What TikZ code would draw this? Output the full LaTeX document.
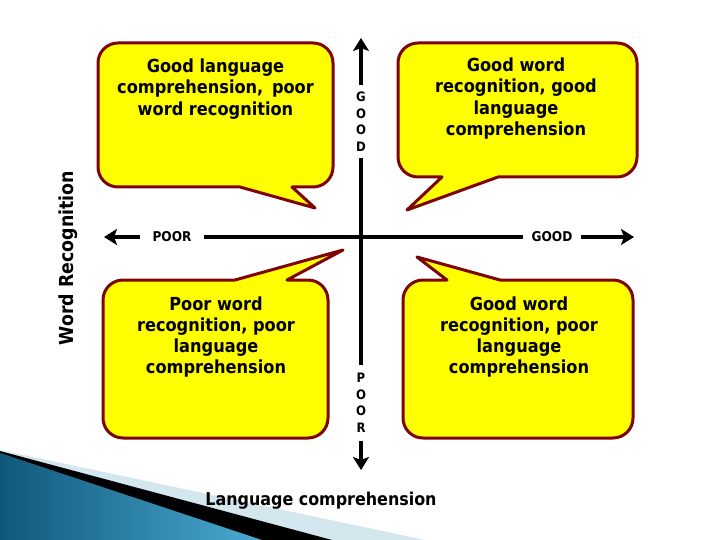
\documentclass[tikz,border=0pt]{standalone}
\usepackage{fontspec}
\newfontfamily\cf{DejaVu Sans Condensed Bold}
\usetikzlibrary{arrows.meta}
\definecolor{cfill}{RGB}{255,255,0}
\definecolor{cedge}{RGB}{125,5,5}
\definecolor{lightband}{RGB}{212,230,238}
\definecolor{bluedark}{RGB}{15,88,122}
\definecolor{bluelight}{RGB}{75,170,210}
\tikzset{
  callout/.style={fill=cfill,draw=cedge,line width=3pt,line join=round},
  ctext/.style={font=\cf\fontsize{18}{21.3}\selectfont,align=center,inner sep=0pt},
  axis/.style={line width=4pt},
  arr/.style={-{Stealth[length=13pt,width=16pt,inset=3pt]}},
  hlab/.style={font=\cf\fontsize{13.5}{16}\selectfont,inner ysep=0pt},
  vlab/.style={font=\cf\fontsize{13}{16.5}\selectfont,align=center,inner xsep=0pt},
}
\begin{document}
\begin{tikzpicture}[x=1pt,y=-1pt]
\useasboundingbox (0,0) rectangle (720,540);
% bottom-left decoration
\fill[lightband] (0,450) -- (425,540) -- (0,540) -- cycle;
\fill[black] (0,451) -- (332,540) -- (0,540) -- cycle;
\shade[left color=bluedark,right color=bluelight] (0,453) -- (262,540) -- (0,540) -- cycle;
% axes
\coordinate (tp) at (361,38);
\coordinate (bt) at (361,470);
\coordinate (lt) at (104,237);
\coordinate (rt) at (634,237);
\node[vlab,inner ysep=7pt] (vg) at (361,121.5) {G\\O\\O\\D};
\node[vlab,inner ysep=8pt] (vp) at (361,403) {P\\O\\O\\R};
\node[hlab,inner xsep=12pt] (hp) at (172,237) {POOR};
\node[hlab,inner xsep=8pt] (hg) at (552,237) {GOOD};
\draw[axis] (hp.east) -- (hg.west);
\draw[axis,arr] (hp.west) -- (lt);
\draw[axis,arr] (hg.east) -- (rt);
\draw[axis] (vg.south) -- (vp.north);
\draw[axis,arr] (vg.north) -- (tp);
\draw[axis,arr] (vp.south) -- (bt);
% callouts
\draw[callout] (215,43) [rounded corners=20pt] -- (333,43) -- (333,187) [sharp corners] -- (292,187) -- (315,208) -- (240,187) [rounded corners=20pt] -- (98,187) -- (98,43) -- cycle;
\draw[callout] (517,43) [rounded corners=20pt] -- (637,43) -- (637,177) [sharp corners] -- (498,177) -- (407,210) -- (442,177) [rounded corners=20pt] -- (398,177) -- (398,43) -- cycle;
\draw[callout] (215,438) [rounded corners=20pt] -- (103,438) -- (103,280) [sharp corners] -- (235,280) -- (343,250) -- (287,280) [rounded corners=20pt] -- (328,280) -- (328,438) -- cycle;
\draw[callout] (518,438) [rounded corners=20pt] -- (403,438) -- (403,280) [sharp corners] -- (447,280) -- (417,257) -- (500,280) [rounded corners=20pt] -- (633,280) -- (633,438) -- cycle;
% callout texts
\node[ctext] (tl) at (215.5,89) {Good language\\comprehension,\ \,poor\\word recognition};
\node[ctext] (tr) at (516,98.5) {Good word\\recognition, good\\language\\comprehension};
\node[ctext] (bl) at (216,337) {Poor word\\recognition, poor\\language\\comprehension};
\node[ctext] (br) at (519,337) {Good word\\recognition, poor\\language\\comprehension};
% axis titles
\node[font=\cf\fontsize{17.7}{20}\selectfont,inner sep=0pt] (xt) at (321,501) {Language comprehension};
\node[font=\cf\fontsize{19.3}{20}\selectfont,inner sep=0pt,rotate=90] (yt) at (68,258) {Word Recognition};
\end{tikzpicture}
\end{document}
